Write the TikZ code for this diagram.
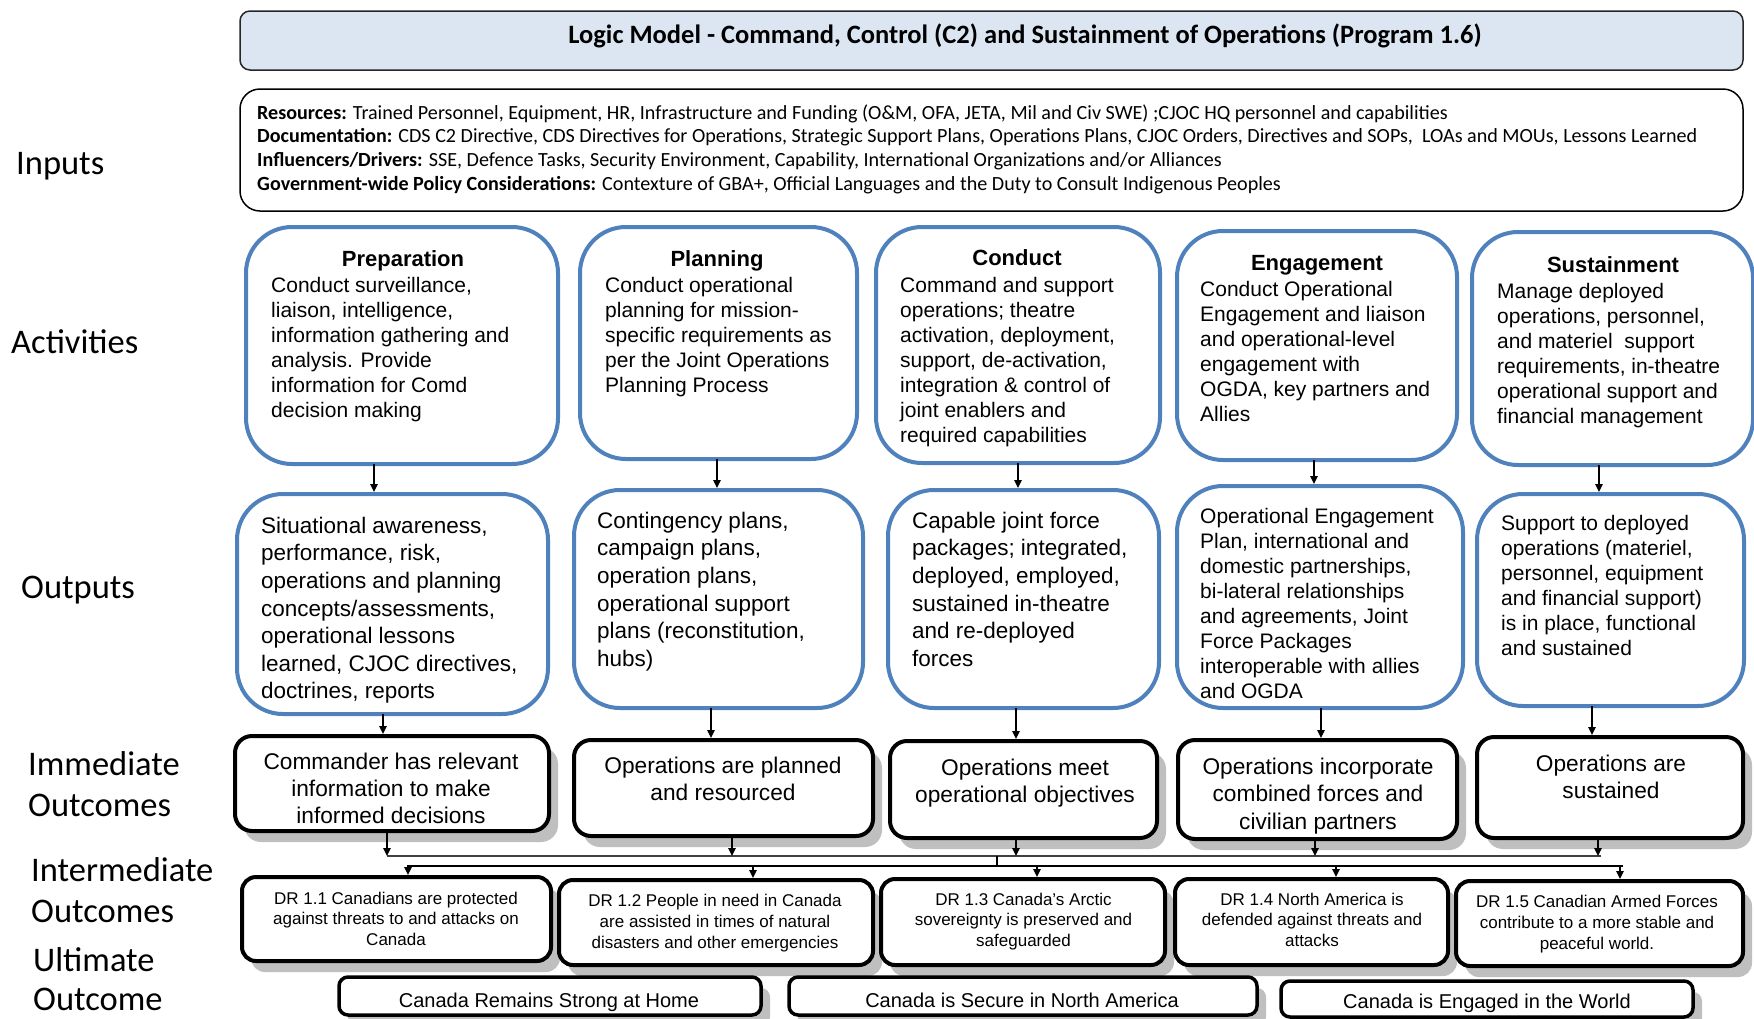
\documentclass[tikz,border=0pt]{standalone}
\usepackage{fontspec}
\setmainfont{Liberation Sans}
\newfontfamily\carl{Carlito}
\usetikzlibrary{arrows.meta,shadows}
\definecolor{bblue}{RGB}{79,129,189}
\definecolor{tfill}{RGB}{220,230,242}
\definecolor{shgray}{RGB}{191,191,191}
\newcommand\placebox[6]{\node[#2, minimum width={#5-#3-4}, minimum height={#6-#4-4}] (#1) at ({#3+2},{#4+2}) {};}
\tikzset{
 basebox/.style={anchor=north west, inner sep=0pt, outer sep=0pt, fill=white},
 titlebox/.style={basebox, draw=black!85, line width=1.5pt, rounded corners=10pt, fill=tfill},
 inbox/.style={basebox, draw=black, line width=1.5pt, rounded corners=20pt},
 actbox/.style={basebox, draw=bblue, line width=4pt, rounded corners=46pt},
 shad/.style={drop shadow={shadow xshift=9pt, shadow yshift=-11pt, fill=shgray, opacity=1}},
 imbox/.style={basebox, draw=black, line width=4pt, rounded corners=17pt, shad},
 drbox/.style={basebox, draw=black, line width=4pt, rounded corners=14pt, shad},
 ultbox/.style={basebox, draw=black, line width=3.5pt, rounded corners=9pt, shad},
 conn/.style={line width=1.3pt, draw=black},
 arr/.style={conn, -{Triangle[length=8pt,width=7.5pt]}},
 lab/.style={anchor=base west, inner sep=0pt, font=\carl\fontsize{34.5}{41}\selectfont},
 body/.style={anchor=north west, align=left, inner sep=0pt, font=\fontsize{21}{25}\selectfont},
 bodyL/.style={anchor=north west, align=left, inner sep=0pt, font=\fontsize{22.5}{27.6}\selectfont},
 head/.style={anchor=base, inner sep=0pt, font=\bfseries\fontsize{22}{26}\selectfont},
 imtext/.style={anchor=north, align=center, inner sep=0pt, font=\fontsize{22.7}{27.4}\selectfont},
 drtext/.style={anchor=north, align=center, inner sep=0pt, font=\fontsize{17}{20.7}\selectfont},
 uttext/.style={anchor=base, inner sep=0pt, font=\fontsize{20}{24}\selectfont},
}
\begin{document}
\begin{tikzpicture}[x=1pt,y=-1pt]
\useasboundingbox (0,0) rectangle (1754,1018);
\fill[white] (0,0) rectangle (1754,1018);

% column coordinates
\coordinate (ao1) at (374,0); \coordinate (ao2) at (717,0); \coordinate (ao3) at (1018,0);
\coordinate (ao4) at (1314,0); \coordinate (ao5) at (1599,0);
\coordinate (oi1) at (383,0); \coordinate (oi2) at (711,0); \coordinate (oi3) at (1016,0);
\coordinate (oi4) at (1321,0); \coordinate (oi5) at (1592,0);
\coordinate (il1) at (387,0); \coordinate (il2) at (732,0); \coordinate (il3) at (1016,0);
\coordinate (il4) at (1315,0); \coordinate (il5) at (1598,0);
\coordinate (ld1) at (408,0); \coordinate (ld2) at (753,0); \coordinate (ld3) at (1037,0);
\coordinate (ld4) at (1336,0); \coordinate (ld5) at (1620,0);
\coordinate (tk) at (997,0);
\coordinate (L1a) at (387,856); \coordinate (L1b) at (1601,856);
\coordinate (L2a) at (407,866); \coordinate (L2b) at (1623,866);

% title and inputs
\placebox{title}{titlebox}{238}{9}{1745}{72}
\node[anchor=base, inner sep=0pt, font=\carl\bfseries\fontsize{26.5}{31}\selectfont] (titletext) at (1025,43.5)
 {Logic Model - Command, Control (C2) and Sustainment of Operations (Program 1.6)};
\placebox{inputs}{inbox}{238}{87}{1745}{213}
\node[anchor=north west, align=left, inner sep=0pt, font=\carl\fontsize{20.1}{23.8}\selectfont] (inputstext) at (257,102.3)
 {\strut\textbf{Resources:} Trained Personnel, Equipment, HR, Infrastructure and Funding (O\&M, OFA, JETA, Mil and Civ SWE) ;CJOC HQ personnel and capabilities\\
 \textbf{Documentation:} CDS C2 Directive, CDS Directives for Operations, Strategic Support Plans, Operations Plans, CJOC Orders, Directives and SOPs,\ \ LOAs and MOUs, Lessons Learned\\
 \textbf{Influencers/Drivers:} SSE, Defence Tasks, Security Environment, Capability, International Organizations and/or Alliances\\
 \textbf{Government-wide Policy Considerations:} Contexture of GBA+, Official Languages and the Duty to Consult Indigenous Peoples};

% row labels
\node[lab] (lin) at (16,174) {Inputs};
\node[lab] (lact) at (11,353) {Activities};
\node[lab] (lout) at (21,598) {Outputs};
\node[lab] (limm1) at (28,775) {Immediate};
\node[lab] (limm2) at (28,816) {Outcomes};
\node[lab] (lint1) at (31,881) {Intermediate};
\node[lab] (lint2) at (31,922) {Outcomes};
\node[lab] (lult1) at (33,971) {Ultimate};
\node[lab] (lult2) at (33,1010) {Outcome};

% activities
\placebox{a1}{actbox}{244}{225}{560}{466}
\placebox{a2}{actbox}{578}{225}{859}{461}
\placebox{a3}{actbox}{874}{225}{1162}{465}
\placebox{a4}{actbox}{1175}{229}{1459}{462}
\placebox{a5}{actbox}{1470}{230}{1755}{467}
\node[head] (a1h) at (403,266) {Preparation};
\node[body] (a1t) at (271,274.5) {\strut Conduct surveillance,\\liaison, intelligence,\\information gathering and\\analysis. Provide\\information for Comd\\decision making};
\node[head] (a2h) at (717,266) {Planning};
\node[body] (a2t) at (605,274.5) {\strut Conduct operational\\planning for mission-\\specific requirements as\\per the Joint Operations\\Planning Process};
\node[head] (a3h) at (1017,265) {Conduct};
\node[body] (a3t) at (900,274.5) {\strut Command and support\\operations; theatre\\activation, deployment,\\support, de-activation,\\integration \& control of\\joint enablers and\\required capabilities};
\node[head] (a4h) at (1317,270) {Engagement};
\node[body] (a4t) at (1200,278.5) {\strut Conduct Operational\\Engagement and liaison\\and operational-level\\engagement with\\OGDA, key partners and\\Allies};
\node[head] (a5h) at (1613,272) {Sustainment};
\node[body] (a5t) at (1497,280.5) {\strut Manage deployed\\operations, personnel,\\and materiel\ \ support\\requirements, in-theatre\\operational support and\\financial management};

% outputs
\placebox{o1}{actbox}{235}{492}{550}{716}
\placebox{o2}{actbox}{572}{488}{865}{710}
\placebox{o3}{actbox}{886}{488}{1161}{710}
\placebox{o4}{actbox}{1175}{484}{1465}{710}
\placebox{o5}{actbox}{1475}{492}{1746}{708}
\node[bodyL] (o1t) at (261,513.7) {\strut Situational awareness,\\performance, risk,\\operations and planning\\concepts/assessments,\\operational lessons\\learned, CJOC directives,\\doctrines, reports};
\node[bodyL] (o2t) at (597,508.7) {\strut Contingency plans,\\campaign plans,\\operation plans,\\operational support\\plans (reconstitution,\\hubs)};
\node[bodyL] (o3t) at (912,508.7) {\strut Capable joint force\\packages; integrated,\\deployed, employed,\\sustained in-theatre\\and re-deployed\\forces};
\node[body] (o4t) at (1200,505.5) {\strut Operational Engagement\\Plan, international and\\domestic partnerships,\\bi-lateral relationships\\and agreements, Joint\\Force Packages\\interoperable with allies\\and OGDA};
\node[body] (o5t) at (1501,512.5) {\strut Support to deployed\\operations (materiel,\\personnel, equipment\\and financial support)\\is in place, functional\\and sustained};

% activity -> output arrows
\draw[arr, shorten >=2pt] (a1.south -| ao1) -- (o1.north -| ao1);
\draw[arr, shorten >=2pt] (a2.south -| ao2) -- (o2.north -| ao2);
\draw[arr, shorten >=2pt] (a3.south -| ao3) -- (o3.north -| ao3);
\draw[arr, shorten >=2pt] (a4.south -| ao4) -- (o4.north -| ao4);
\draw[arr, shorten >=2pt] (a5.south -| ao5) -- (o5.north -| ao5);

% immediate outcomes
\placebox{i1}{imbox}{233}{734}{551}{833}
\placebox{i2}{imbox}{572}{738}{875}{838}
\placebox{i3}{imbox}{888}{739}{1159}{840}
\placebox{i4}{imbox}{1176}{738}{1459}{841}
\placebox{i5}{imbox}{1475}{735}{1745}{840}
\node[imtext] (i1t) at (391,749.8) {\strut Commander has relevant\\information to make\\informed decisions};
\node[imtext] (i2t) at (723,754) {\strut Operations are planned\\and resourced};
\node[imtext] (i3t) at (1025,756) {\strut Operations meet\\operational objectives};
\node[imtext] (i4t) at (1318,755) {\strut Operations incorporate\\combined forces and\\civilian partners};
\node[imtext] (i5t) at (1611,752) {\strut Operations are\\sustained};

% output -> immediate arrows
\draw[arr, shorten >=2pt] (o1.south -| oi1) -- (i1.north -| oi1);
\draw[arr, shorten >=2pt] (o2.south -| oi2) -- (i2.north -| oi2);
\draw[arr, shorten >=2pt] (o3.south -| oi3) -- (i3.north -| oi3);
\draw[arr, shorten >=2pt] (o4.south -| oi4) -- (i4.north -| oi4);
\draw[arr, shorten >=2pt] (o5.south -| oi5) -- (i5.north -| oi5);

% DR boxes
\placebox{d1}{drbox}{240}{875}{553}{963}
\placebox{d2}{drbox}{557}{878}{875}{967}
\placebox{d3}{drbox}{879}{877}{1167}{967}
\placebox{d4}{drbox}{1173}{877}{1450}{967}
\placebox{d5}{drbox}{1454}{879}{1745}{968}
\node[drtext] (d1t) at (396,889.5) {\strut DR 1.1 Canadians are protected\\against threats to and attacks on\\Canada};
\node[drtext] (d2t) at (715,892) {\strut DR 1.2 People in need in Canada\\are assisted in times of natural\\disasters and other emergencies};
\node[drtext] (d3t) at (1023.5,890.5) {\strut DR 1.3 Canada’s Arctic\\sovereignty is preserved and\\safeguarded};
\node[drtext] (d4t) at (1312,890.5) {\strut DR 1.4 North America is\\defended against threats and\\attacks};
\node[drtext] (d5t) at (1597,893) {\strut DR 1.5 Canadian Armed Forces\\contribute to a more stable and\\peaceful world.};

% connector lines
\draw[conn, draw=black!75] (L1a) -- (L1b);
\draw[conn] (L2a) -- (L2b);
\draw[conn] (L1a -| tk) -- (L2a -| tk);
\draw[arr] (i1.south -| il1) -- (L1a -| il1);
\draw[arr] (i2.south -| il2) -- (L1a -| il2);
\draw[arr] (i3.south -| il3) -- (L1a -| il3);
\draw[arr] (i4.south -| il4) -- (L1a -| il4);
\draw[arr] (i5.south -| il5) -- (L1a -| il5);
\draw[arr, shorten >=2pt] (L2a -| ld1) -- (d1.north -| ld1);
\draw[arr, shorten >=2pt] (L2a -| ld2) -- (d2.north -| ld2);
\draw[arr, shorten >=2pt] (L2a -| ld3) -- (d3.north -| ld3);
\draw[arr, shorten >=2pt] (L2a -| ld4) -- (d4.north -| ld4);
\draw[arr, shorten >=2pt] (L2a -| ld5) -- (d5.north -| ld5);

% ultimate outcomes
\placebox{u1}{ultbox}{337}{975}{763}{1017}
\placebox{u2}{ultbox}{787}{975}{1259}{1017}
\placebox{u3}{ultbox}{1279}{979}{1695}{1019}
\node[uttext] (u1t) at (549,1007) {Canada Remains Strong at Home};
\node[uttext] (u2t) at (1022,1007) {Canada is Secure in North America};
\node[uttext] (u3t) at (1487,1008) {Canada is Engaged in the World};
\end{tikzpicture}
\end{document}
